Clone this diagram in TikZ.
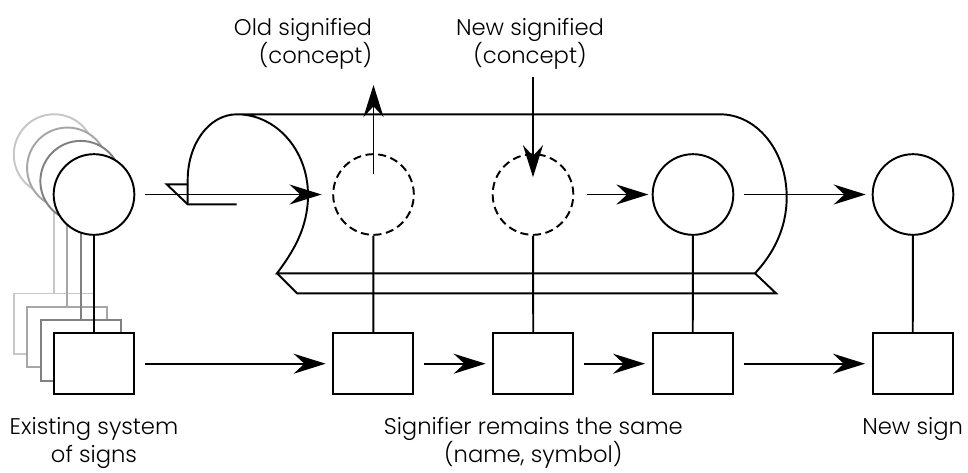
\documentclass[tikz,border=0pt]{standalone}
\usepackage{fontspec}
\setmainfont{Poppins}[UprightFont=* Light]
\usetikzlibrary{arrows.meta, positioning}

\begin{document}
\begin{tikzpicture}[x=0.75pt, y=-0.75pt,
        line width=1.45pt,
        >={Stealth[length=24pt,width=15pt,inset=8pt]},
        sig/.style={circle, draw, fill=white, minimum size=60.5pt, inner sep=0pt},
        ghost/.style={dash pattern=on 6pt off 3.5pt},
        sgn/.style={draw, fill=white, minimum width=60pt, minimum height=45.5pt, inner sep=0pt},
        lbl/.style={font=\fontsize{17}{21}\selectfont, align=center, inner sep=0pt}]

    \useasboundingbox (0,0) rectangle (968,472);

    % older signs stacked behind the first one
    \foreach \k/\c in {3/black!22, 2/black!35, 1/black!50} {
        \node[sig, draw=\c] (c\k) at ({94-13.3*\k},{194.5-13.3*\k}) {};
        \node[sgn, draw=\c] (s\k) at ({94-13.3*\k},{363.7-13.3*\k}) {};
        \draw[\c] (c\k) -- (s\k);
    }
    \node[sig] (c0) at (94,194.5) {};
    \node[sgn] (s0) at (94,363.7) {};
    \draw (c0) -- (s0);

    % the band
    \draw (236.7,204.3) -- (187.7,204.3) -- (166.7,184.3) -- (187.7,184.3);
    \draw (187.7,204.3) -- (187.7,180) .. controls (187.7,144) and (209,114.3) .. (237,114.3)
        -- (720,114.3) .. controls (757,114.3) and (786.7,151) .. (786.7,197)
        .. controls (786.7,230) and (772,255) .. (755,273.3) -- (277,273.3)
        .. controls (293,252) and (308,228) .. (308,195)
        .. controls (308,150) and (276,114.3) .. (237,114.3);
    \draw (277,273.3) -- (297,293.3) -- (776,293.3) -- (755,273.3);

    \node[sig, ghost] (old) at (373.5,194.5) {};
    \node[sig, ghost] (new) at (533,194.5) {};
    \node[sig] (c3) at (693,194.5) {};
    \node[sig] (c4) at (913,194.5) {};
    \node[sgn] (s1) at (373.3,363.7) {};
    \node[sgn] (s2) at (533.3,363.7) {};
    \node[sgn] (s3) at (692.7,363.7) {};
    \node[sgn] (s4) at (912.7,363.7) {};

    \foreach \a/\b in {old/s1, new/s2, c3/s3, c4/s4}
        \draw (\a) -- (\b);

    \draw[->, shorten <=7.5pt, shorten >=8pt] (c0) -- (old);
    \draw[->, shorten <=9.5pt, shorten >=2.5pt] (new) -- (c3);
    \draw[->, shorten <=7pt, shorten >=4.5pt] (c3) -- (c4);
    \foreach \a/\b in {s0/s1, s1/s2, s2/s3, s3/s4}
        \draw[->, shorten <=7.5pt, shorten >=5pt] (\a) -- (\b);

    \coordinate (oldtip) at (373.5,85);
    \coordinate (newtail) at (533,77);
    \draw[->] ([yshift=15.5pt]old.center) -- (oldtip);
    \draw[->] (newtail) -- ([yshift=13pt]new.center);

    \node[lbl, align=right, anchor=north east] (oldlbl) at (373,17) {Old signified\\(concept)};
    \node[lbl, anchor=north] (newlbl) at (530,17) {New signified\\(concept)};
    \node[lbl, below=16pt of s0] (exlbl) {Existing system\\of signs};
    \node[lbl, below=16pt of s2] (samelbl) {Signifier remains the same\\(name, symbol)};
    \node[lbl, below=16pt of s4] (newsign) {New sign};
\end{tikzpicture}
\end{document}
